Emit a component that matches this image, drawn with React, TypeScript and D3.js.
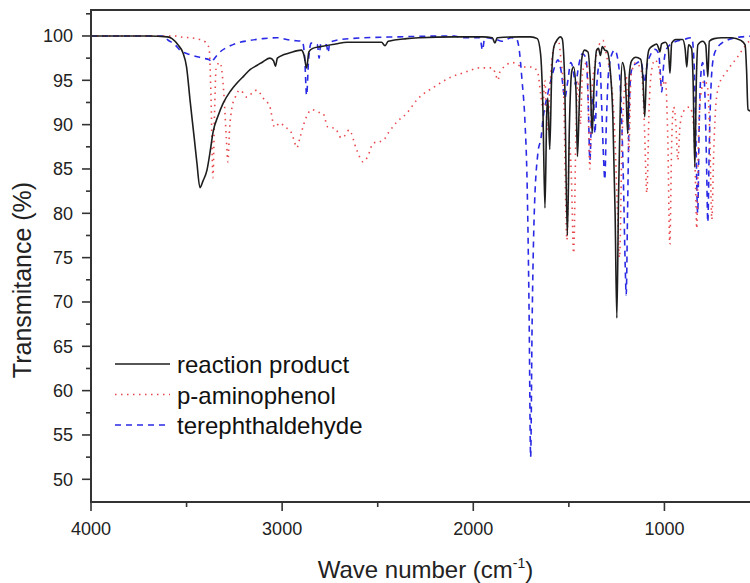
import React from "react";
import * as d3 from "d3";

type P = [number, number];

// reaction product (black solid): [wavenumber, transmittance %]
const reactionProduct: P[] = [
  [4000, 100], [3700, 100], [3600, 99.9], [3576, 99.7], [3545, 99.0], [3519, 98.1], [3500, 96.5],
  [3482, 92.8], [3460, 88.5], [3446, 85.7], [3430, 82.9], [3415, 83.6], [3393, 84.9], [3375, 87.2],
  [3362, 89.1], [3335, 91.0], [3309, 92.4], [3270, 93.8], [3236, 94.7], [3200, 95.5], [3168, 96.2],
  [3130, 96.7], [3100, 97.1], [3064, 97.5], [3045, 97.2], [3035, 96.6], [3025, 97.5], [2990, 97.9],
  [2960, 98.1], [2900, 98.4], [2885, 97.8], [2872, 96.4], [2860, 98.2], [2840, 98.6], [2800, 98.8],
  [2720, 99.1], [2660, 99.3], [2560, 99.3], [2480, 99.3], [2462, 98.9], [2445, 99.4], [2350, 99.7],
  [2280, 99.8], [2100, 99.9], [1950, 99.9], [1900, 99.8], [1887, 99.2], [1875, 99.8], [1760, 99.9],
  [1700, 99.9], [1665, 99.7], [1648, 98.0], [1636, 92.0], [1625, 80.6], [1616, 91.0], [1610, 93.0],
  [1600, 87.2], [1590, 95.5], [1578, 98.8], [1560, 99.6], [1545, 99.9], [1535, 99.7], [1522, 95.0],
  [1508, 77.5], [1497, 90.0], [1485, 96.0], [1475, 96.5], [1463, 94.0], [1455, 86.4], [1445, 92.5],
  [1432, 97.5], [1418, 98.4], [1400, 98.2], [1388, 95.0], [1378, 89.0], [1368, 94.5], [1355, 98.4],
  [1345, 98.6], [1335, 97.8], [1325, 98.8], [1312, 98.4], [1300, 98.3], [1285, 96.5], [1270, 91.0],
  [1258, 80.0], [1249, 68.2], [1240, 82.0], [1230, 93.0], [1220, 97.0], [1208, 96.0], [1200, 93.0],
  [1192, 89.0], [1184, 95.5], [1172, 97.2], [1150, 97.6], [1125, 97.4], [1112, 95.0], [1103, 90.9],
  [1094, 96.0], [1080, 98.5], [1060, 98.9], [1040, 99.1], [1030, 98.6], [1024, 98.2], [1015, 99.1],
  [995, 99.3], [980, 98.6], [971, 95.8], [962, 99.2], [940, 99.6], [905, 99.6], [892, 98.6],
  [883, 96.5], [874, 99.0], [858, 98.6], [850, 95.0], [841, 85.2], [833, 95.0], [825, 99.0],
  [800, 99.4], [784, 99.0], [773, 95.4], [765, 99.4], [740, 99.7], [700, 99.8], [650, 99.8],
  [600, 99.5], [578, 99.0], [570, 96.0], [563, 91.7], [540, 91.5], [500, 92.0],
];

// p-aminophenol (red dotted)
const pAminophenol: P[] = [
  [4000, 100], [3700, 100], [3560, 100], [3534, 99.9], [3450, 99.7], [3400, 99.3], [3382, 98.6],
  [3372, 93.0], [3362, 84.0], [3354, 91.0], [3345, 96.5], [3325, 97.0], [3305, 93.5], [3292, 88.5],
  [3284, 85.8], [3275, 89.5], [3262, 92.0], [3247, 93.0], [3221, 93.9], [3184, 93.1], [3150, 93.7],
  [3132, 93.9], [3100, 93.0], [3064, 92.0], [3040, 89.7], [3010, 90.2], [2985, 89.7], [2960, 89.4],
  [2940, 88.4], [2923, 87.4], [2907, 88.5], [2880, 90.5], [2844, 91.7], [2810, 91.4], [2787, 91.3],
  [2760, 89.7], [2724, 89.6], [2690, 88.5], [2670, 88.8], [2650, 89.4], [2609, 87.1], [2577, 85.8],
  [2550, 86.5], [2525, 87.9], [2473, 88.2], [2440, 89.2], [2400, 90.3], [2347, 91.3], [2295, 92.8],
  [2201, 94.3], [2123, 95.3], [2044, 95.9], [1966, 96.4], [1900, 96.4], [1885, 95.8], [1871, 95.0],
  [1860, 96.0], [1793, 97.0], [1741, 96.5], [1689, 96.5], [1662, 95.8], [1648, 93.5], [1636, 92.0],
  [1626, 95.0], [1612, 89.4], [1600, 94.0], [1585, 98.0], [1570, 99.2], [1555, 99.5], [1540, 97.0],
  [1528, 94.0], [1510, 77.0], [1497, 88.0], [1488, 85.0], [1475, 75.5], [1463, 89.0], [1452, 95.0],
  [1440, 90.0], [1428, 96.0], [1405, 97.0], [1390, 85.0], [1380, 93.5], [1362, 97.0], [1342, 99.0],
  [1322, 99.5], [1300, 97.5], [1285, 96.0], [1262, 90.0], [1245, 80.0], [1235, 75.0], [1222, 88.0],
  [1212, 93.0], [1200, 95.5], [1186, 87.0], [1175, 95.5], [1150, 97.0], [1120, 96.0], [1105, 90.0],
  [1092, 82.3], [1080, 92.0], [1068, 96.0], [1050, 97.3], [1030, 96.5], [1014, 94.3], [995, 95.0],
  [982, 88.0], [972, 76.5], [962, 88.0], [952, 92.0], [940, 90.0], [930, 86.0], [918, 90.0],
  [900, 91.5], [867, 92.0], [848, 90.0], [838, 84.0], [831, 78.3], [822, 88.0], [812, 93.0],
  [790, 95.0], [773, 94.0], [762, 88.0], [752, 79.3], [742, 87.0], [730, 92.5], [711, 94.7],
  [680, 95.8], [658, 96.5], [622, 97.5], [580, 98.8], [555, 99.4], [500, 99.6],
];

// terephthaldehyde (blue dashed)
const terephthaldehyde: P[] = [
  [4000, 100], [3700, 100], [3620, 100], [3600, 99.6], [3560, 99.0], [3535, 98.4], [3482, 97.9],
  [3414, 97.5], [3380, 97.3], [3370, 97.0], [3360, 97.3], [3325, 98.2], [3280, 98.8], [3236, 99.2],
  [3168, 99.5], [3100, 99.7], [3027, 99.8], [2950, 99.5], [2895, 99.4], [2882, 97.5], [2872, 93.3],
  [2862, 97.2], [2848, 99.2], [2815, 99.0], [2807, 97.5], [2798, 99.1], [2768, 99.0], [2760, 98.1],
  [2750, 99.3], [2650, 99.7], [2400, 99.9], [2100, 100], [2060, 99.8], [1965, 99.8], [1952, 98.4],
  [1940, 99.8], [1880, 99.6], [1850, 99.4], [1800, 99.8], [1775, 99.7], [1760, 98.5], [1745, 95.0],
  [1730, 90.5], [1718, 83.0], [1708, 68.8], [1700, 52.5], [1692, 68.0], [1682, 79.3], [1662, 86.8],
  [1645, 88.6], [1636, 90.5], [1610, 93.5], [1589, 95.4], [1570, 96.8], [1557, 97.3], [1540, 96.0],
  [1521, 93.0], [1505, 95.0], [1490, 97.0], [1479, 96.4], [1465, 94.5], [1450, 96.5], [1430, 98.0],
  [1410, 97.5], [1398, 92.0], [1390, 86.0], [1380, 92.0], [1372, 93.5], [1364, 89.0], [1352, 95.0],
  [1338, 97.0], [1328, 92.0], [1318, 86.0], [1312, 83.8], [1304, 90.0], [1292, 96.0], [1270, 98.2],
  [1260, 98.4], [1245, 97.5], [1228, 93.0], [1215, 84.0], [1205, 74.0], [1200, 70.8], [1193, 80.0],
  [1185, 91.0], [1175, 95.8], [1166, 96.5], [1140, 97.0], [1125, 97.2], [1112, 96.0], [1103, 94.7],
  [1092, 96.5], [1070, 98.0], [1050, 98.5], [1030, 98.0], [1022, 96.0], [1014, 93.7], [1005, 96.5],
  [990, 98.5], [950, 99.3], [900, 99.6], [857, 99.8], [845, 97.0], [835, 88.0], [826, 80.0],
  [818, 90.0], [810, 95.5], [800, 97.0], [790, 94.5], [780, 86.0], [773, 79.0], [765, 88.0],
  [752, 96.0], [737, 98.1], [700, 99.2], [674, 99.5], [600, 99.9], [500, 100],
];

const yMajorTicks = [50, 55, 60, 65, 70, 75, 80, 85, 90, 95, 100];
const yMinorTicks = [52.5, 57.5, 62.5, 67.5, 72.5, 77.5, 82.5, 87.5, 92.5, 97.5, 102.5];
const xMajorTicks = [4000, 3000, 2000, 1000];
const xMinorTicks = [3500, 2500, 1500];

const legendItems = [
  { label: "reaction product", color: "#1e1e1e", dash: "none", width: 1.6 },
  { label: "p-aminophenol", color: "#e8484c", dash: "1.5 4.5", width: 1.6 },
  { label: "terephthaldehyde", color: "#2a2ae6", dash: "6 5", width: 1.6 },
];

const W = 750;
const H = 583;
const L = 91;
const R = 760;
const T = 10;
const B = 502;

export default function App() {
  const x = d3.scaleLinear().domain([4000, 500]).range([L, R]);
  const y = d3.scaleLinear().domain([47.44, 102.93]).range([B, T]);
  const line = d3
    .line<P>()
    .x((d) => x(d[0]))
    .y((d) => y(d[1]))
    .curve(d3.curveMonotoneX);

  const font = "'Liberation Sans', Arial, Helvetica, sans-serif";
  const axisColor = "#333";

  const series = [
    { data: terephthaldehyde, ...legendItems[2] },
    { data: pAminophenol, ...legendItems[1] },
    { data: reactionProduct, ...legendItems[0] },
  ];

  return (
    <svg
      width={W}
      height={H}
      style={{ position: "absolute", left: 0, top: 0, background: "#fff" }}
      fontFamily={font}
    >
      <defs>
        <clipPath id="plot">
          <rect x={L} y={T} width={R - L} height={B - T} />
        </clipPath>
      </defs>
      <rect x={0} y={0} width={W} height={H} fill="#fff" />
      <g clipPath="url(#plot)">
        {series.map((s) => (
          <path
            key={s.label}
            d={line(s.data) || ""}
            fill="none"
            stroke={s.color}
            strokeWidth={s.width}
            strokeDasharray={s.dash}
            strokeLinejoin="round"
          />
        ))}
      </g>
      {/* frame */}
      <rect x={L} y={T} width={R - L} height={B - T} fill="none" stroke={axisColor} strokeWidth={2} />
      {/* y ticks */}
      {yMajorTicks.map((t) => (
        <g key={"ym" + t}>
          <line x1={L - 9} x2={L} y1={y(t)} y2={y(t)} stroke={axisColor} strokeWidth={1.6} />
          <text x={73} y={y(t)} dy="0.35em" textAnchor="end" fontSize={18} fill="#222">
            {t}
          </text>
        </g>
      ))}
      {yMinorTicks.map((t) => (
        <line key={"yn" + t} x1={L - 5} x2={L} y1={y(t)} y2={y(t)} stroke={axisColor} strokeWidth={1.6} />
      ))}
      {/* x ticks */}
      {xMajorTicks.map((t) => (
        <g key={"xm" + t}>
          <line x1={x(t)} x2={x(t)} y1={B} y2={B + 9} stroke={axisColor} strokeWidth={1.6} />
          <text x={x(t)} y={535} textAnchor="middle" fontSize={18} fill="#222">
            {t}
          </text>
        </g>
      ))}
      {xMinorTicks.map((t) => (
        <line key={"xn" + t} x1={x(t)} x2={x(t)} y1={B} y2={B + 5} stroke={axisColor} strokeWidth={1.6} />
      ))}
      {/* axis titles */}
      <text x={(L + R) / 2} y={578} textAnchor="middle" fontSize={24} fill="#222">
        Wave number (cm
        <tspan fontSize={14} dy={-10}>-1</tspan>
        <tspan dy={10}>)</tspan>
      </text>
      <text
        transform={`translate(31,280) rotate(-90)`}
        textAnchor="middle"
        fontSize={25}
        fill="#222"
      >
        Transmitance (%)
      </text>
      {/* legend */}
      {legendItems.map((it, i) => (
        <g key={it.label}>
          <line
            x1={115}
            x2={170}
            y1={364 + i * 30.5}
            y2={364 + i * 30.5}
            stroke={it.color}
            strokeWidth={it.width}
            strokeDasharray={it.dash}
          />
          <text x={177} y={373 + i * 30.5} fontSize={24} fill="#111">
            {it.label}
          </text>
        </g>
      ))}
    </svg>
  );
}
